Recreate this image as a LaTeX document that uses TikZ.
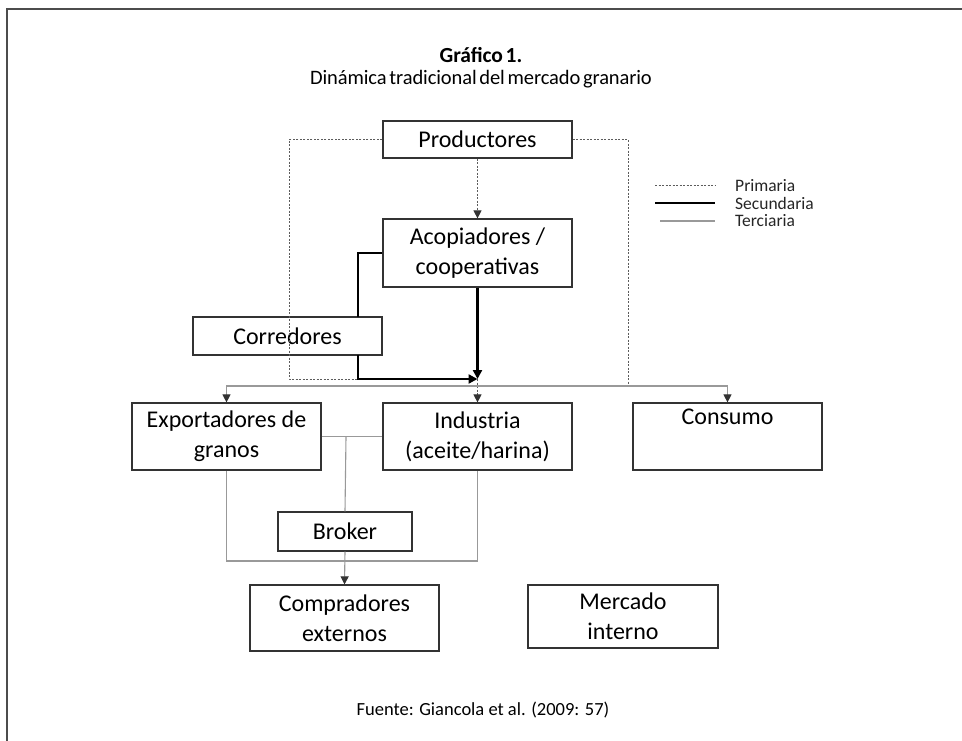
\documentclass[tikz,border=0pt]{standalone}
\usepackage{fontspec}
\setmainfont{Carlito}
\newfontfamily\ttlfont[LetterSpace=-0.5,WordSpace=0.6]{Carlito}
\usetikzlibrary{arrows.meta}
\definecolor{frame}{gray}{0.3}
\definecolor{boxc}{gray}{0.2}
\definecolor{terc}{gray}{0.6}
\tikzset{
  box/.style={draw=boxc, line width=1.2pt, minimum width=189pt, inner sep=0pt, align=center, font=\fontsize{24}{30}\selectfont, text=black},
  prim/.style={draw=boxc!80, line width=1pt, dash pattern=on 2pt off 1.5pt},
  sec/.style={draw=black, line width=2.6pt},
  ter/.style={draw=terc, line width=1.1pt},
  tri/.tip={Triangle[width=8pt,length=8pt,color=boxc]},
  tip/.style={-tri},
  ttl/.style={font=\ttlfont\fontsize{20.5}{25}\selectfont, text=black},
  leg/.style={font=\fontsize{17.5}{20}\selectfont, text=black!85, anchor=west, inner sep=0pt}
}
\begin{document}
\begin{tikzpicture}[x=1pt,y=-1pt]
\useasboundingbox (0,0) rectangle (962,741);
\fill[white] (0,0) rectangle (962,741);
\draw[frame, line width=2pt] (7,741) -- (7,9) -- (962,9);

\node[ttl, font=\ttlfont\fontsize{21.5}{26}\selectfont\bfseries] (t1) at (481,55) {Gráfico 1.};
\node[ttl] (t2) at (481,79) {Dinámica tradicional del mercado granario};
\node[font=\fontsize{18.5}{22}\selectfont, text=black] (src) at (483,710) {Fuente: Giancola et al. (2009: 57)};

% boxes
\node[box, minimum height=37pt] (prod) at (477.5,139.5) {Productores};
\node[box, minimum height=68pt] (acop) at (477.5,253) {Acopiadores /\\cooperativas};
\node[box, minimum height=38pt] (corr) at (287.5,336) {Corredores};
\node[box, minimum height=67pt] (exp) at (226.5,436.5) {Exportadores de\\granos};
\node[box, minimum height=67pt] (ind) at (477.5,436.5) {Industria\\(aceite/harina)};
\node[box, minimum height=67pt] (cons) at (727.5,436.5) {Consumo\\\strut};
\node[box, minimum width=134pt, minimum height=39pt] (brok) at (345,531.5) {Broker};
\node[box, minimum height=66pt] (comp) at (344.5,618) {Compradores\\externos};
\node[box, minimum width=190pt, minimum height=63pt] (merc) at (623,616.5) {Mercado\\interno};

\coordinate (J) at (477.5,379);
\coordinate (gy) at (0,386);
\coordinate (M) at (346,437);
\coordinate (by) at (0,561);

% primaria
\draw[prim] (prod.west) -- (289,139.5) -- (289,379) -- (J);
\draw[prim] (prod.east) -- (628,139.5) -- (628,385) -- (477.5,385);
\draw[prim, tip] (prod.south) -- (acop.north);
\draw[prim, tip] (J) -- (ind.north);

% terciaria
\draw[ter, tri-tri] (exp.north) -- (exp.north |- gy) -- (cons.north |- gy) -- (cons.north);
\draw[ter] (exp.east) -- (ind.west);
\draw[ter] (M) -- (brok.north);
\draw[ter] (exp.south) -- (exp.south |- by) -- (ind.south |- by) -- (ind.south);
\draw[ter, tip] (brok.south) -- (comp.north);

% secundaria
\draw[sec] (acop.west) -- (358,253) -- (358,317);
\draw[sec, -{Triangle[width=9pt,length=9pt]}] (358,355) -- (358,379) -- (J);
\draw[sec, -{Triangle[width=9pt,length=9pt]}] (acop.south) -- (J);

% legend
\coordinate (l1) at (715,186);
\coordinate (l2) at (715,203);
\coordinate (l3) at (715,221);
\draw[prim] (655,186) -- (l1);
\draw[sec] (655,203) -- (l2);
\draw[ter] (660,221) -- (l3);
\node[leg] (lp) at (735,186) {Primaria};
\node[leg] (ls) at (735,203) {Secundaria};
\node[leg] (lt) at (735,221) {Terciaria};
\end{tikzpicture}
\end{document}
